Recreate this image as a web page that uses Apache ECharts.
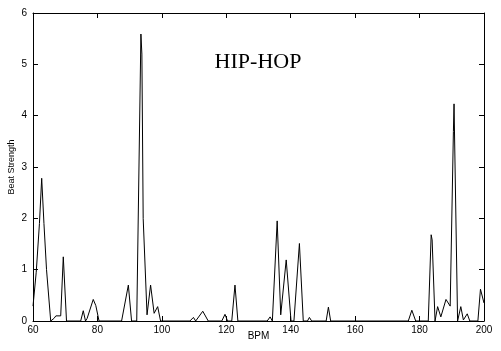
<!DOCTYPE html>
<html>
<head>
<meta charset="utf-8">
<script src="https://cdn.jsdelivr.net/npm/echarts@6/dist/echarts.min.js"></script>
<style>html,body{margin:0;padding:0;background:#fff}#c{width:501px;height:351px}</style>
</head>
<body>
<div id="c"></div>
<script>
const titleText = 'HIP-HOP';
const xName = 'BPM';
const yName = 'Beat Strength';
const xTicks = [60, 80, 100, 120, 140, 160, 180, 200];
const yTicks = [0, 1, 2, 3, 4, 5, 6];
const bpm = [60,61,62,62.7,63.4,64.2,65.5,66.5,67.1,68.6,69.4,70.4,74.8,75.6,76.3,76.8,78.7,79.5,80.5,
  87.5,89.6,90.6,92.2,93.5,93.8,94.2,95.4,96.5,97.6,98.7,99.6,
  108.7,109.8,110.5,112.7,114.4,118.6,119.6,120.4,121.7,122.7,123.6,
  132.7,133.6,134.3,134.8,135.8,136.9,138.6,140.1,141,142.7,143.9,145.2,145.8,146.5,151,151.7,152.4,
  176.5,177.6,178.8,182.7,183.6,183.9,184.8,185.6,186.6,188.2,189.5,190.5,190.7,191.8,192.8,193.6,194.8,195.6,198.1,198.9,200];
const strength = [0.29,0.95,1.9,2.78,1.9,1.0,0,0.05,0.1,0.1,1.25,0,0,0.2,0,0.05,0.42,0.3,0,
  0,0.7,0,0,5.59,5.2,2.0,0.12,0.7,0.15,0.28,0,
  0,0.07,0,0.19,0,0,0.13,0,0,0.7,0,
  0,0.08,0,0,1.95,0.12,1.19,0,0,1.51,0,0,0.07,0,0,0.27,0,
  0,0.21,0,0,1.68,1.58,0,0.28,0.08,0.42,0.29,3.69,4.23,0,0.28,0.02,0.14,0,0,0.62,0.35];

const data = bpm.map((b, i) => [b, strength[i]]);
const font = 'Liberation Sans';
const axisCommon = {
  type: 'value',
  splitLine: { show: false },
  axisLine: { show: true, onZero: false, lineStyle: { color: '#000', width: 1 } },
  axisTick: { show: true, inside: true, length: 5, lineStyle: { color: '#000' } }
};
const chart = echarts.init(document.getElementById('c'), null, { renderer: 'canvas' });
chart.setOption({
  animation: false,
  backgroundColor: '#fff',
  grid: { left: 33, right: 17, top: 13, bottom: 30, containLabel: false, outerBoundsMode: 'none' },
  title: {
    text: titleText, left: 253, top: 46, textAlign: 'center',
    textStyle: { fontFamily: 'Liberation Serif', fontSize: 22, fontWeight: 'normal', color: '#000' }
  },
  xAxis: [
    Object.assign({}, axisCommon, {
      min: xTicks[0], max: xTicks[xTicks.length - 1], interval: 20, position: 'bottom',
      name: xName, nameLocation: 'middle', nameGap: 10, nameMoveOverlap: false,
      nameTextStyle: { fontFamily: font, fontSize: 10, color: '#000' },
      axisLabel: { fontFamily: font, fontSize: 10, color: '#000', margin: 4 }
    }),
    Object.assign({}, axisCommon, {
      min: xTicks[0], max: xTicks[xTicks.length - 1], interval: 20, position: 'top',
      axisLabel: { show: false }
    })
  ],
  yAxis: [
    Object.assign({}, axisCommon, {
      min: yTicks[0], max: yTicks[yTicks.length - 1], interval: 1, position: 'left',
      name: yName, nameLocation: 'middle', nameGap: 17, nameRotate: 90, nameMoveOverlap: false,
      nameTextStyle: { fontFamily: font, fontSize: 9, color: '#000' },
      axisLabel: { fontFamily: font, fontSize: 10, color: '#000', margin: 6 }
    }),
    Object.assign({}, axisCommon, {
      min: yTicks[0], max: yTicks[yTicks.length - 1], interval: 1, position: 'right',
      axisLabel: { show: false }
    })
  ],
  series: [{
    type: 'line', data: data, xAxisIndex: 0, yAxisIndex: 0,
    symbol: 'none', lineStyle: { color: '#000', width: 1 }
  }]
});
</script>
</body>
</html>
